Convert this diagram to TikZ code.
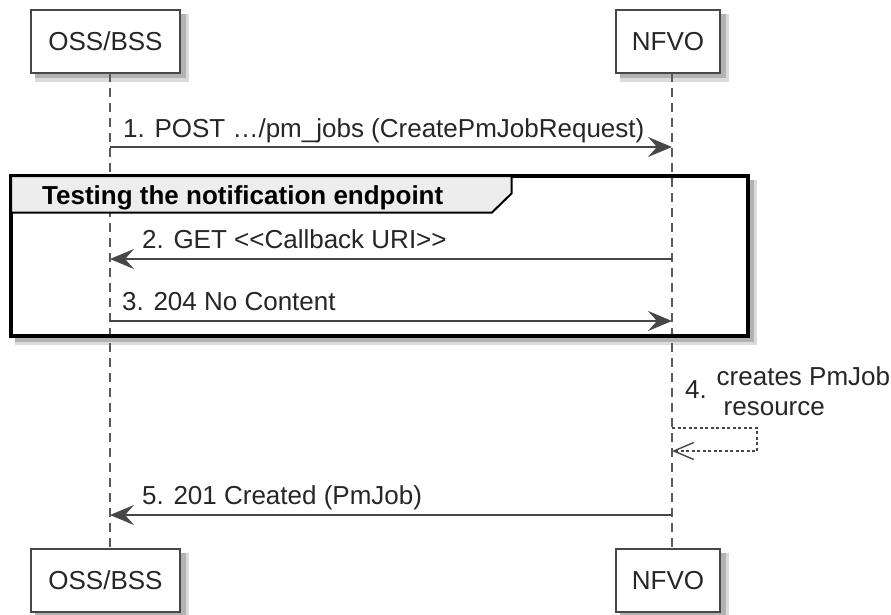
\documentclass[tikz,border=0pt]{standalone}
\usepackage{fontspec}
\setmainfont{Liberation Sans}
\usetikzlibrary{arrows.meta,positioning}

\begin{document}
\begin{tikzpicture}[
    x=1pt, y=-1pt,
    font=\fontsize{26}{30}\selectfont,
    actorbox/.style={draw=black!72, fill=white, line width=2.4pt, minimum height=63pt, inner sep=0pt, text=black!85},
    shadowfar/.style={fill=black!14},
    shadownear/.style={fill=black!30},
    lifeline/.style={draw=black!65, line width=1.3pt, dash pattern=on 9pt off 6pt},
    msgline/.style={draw=black!72, line width=1.4pt, -{Stealth[length=24pt,width=20pt,inset=9pt]}},
    selfline/.style={draw=black!72, line width=1.3pt, dash pattern=on 3pt off 2.5pt, -{Straight Barb[length=20pt,width=17pt,line width=1.4pt]}},
    msglabel/.style={anchor=base west, inner sep=0pt, text=black!85},
    groupframe/.style={draw=black, line width=4pt}
]
  \useasboundingbox (0,0) rectangle (891,615);

  % shadows
  \fill[shadowfar] (35,14) rectangle (189,82);
  \fill[shadownear] (35,14) rectangle (185.5,78.5);
  \fill[shadowfar] (620,14) rectangle (729,82);
  \fill[shadownear] (620,14) rectangle (725.5,78.5);
  \fill[shadowfar] (35,553) rectangle (189,615);
  \fill[shadownear] (35,553) rectangle (185.5,615);
  \fill[shadowfar] (620,553) rectangle (729,615);
  \fill[shadownear] (620,553) rectangle (725.5,615);
  \fill[shadowfar] (15,180) rectangle (757,345);
  \fill[shadownear] (15,180) rectangle (753.5,341.5);

  % participants
  \node[actorbox, minimum width=149pt] (ossTop) at (105.5,41.5) {OSS/BSS};
  \node[actorbox, minimum width=104pt] (nfvoTop) at (668,41.5) {NFVO};
  \node[actorbox, minimum width=149pt] (ossBot) at (105.5,580.5) {OSS/BSS};
  \node[actorbox, minimum width=104pt] (nfvoBot) at (668,580.5) {NFVO};

  \foreach \n/\y in {1/147,2/259,3/321,4/428,5/515} {
    \coordinate (oss\n) at (110,\y);
    \coordinate (nfvo\n) at (672,\y);
  }
  \coordinate (loopA) at (757,428);
  \coordinate (loopB) at (757,451);
  \coordinate (nfvo4b) at (672,451);

  % group
  \coordinate (grpA) at (11,176);
  \coordinate (grpB) at (748,336);
  \fill[white] (grpA) rectangle (grpB);

  \draw[lifeline] (110,73) -- (ossBot.north -| 110,0);
  \draw[lifeline] (672,73) -- (nfvoBot.north -| 672,0);

  \draw[groupframe] (grpA) rectangle (grpB);
  \draw[fill=black!7, line width=2pt] (11,176) -- (511.5,176) -- (511.5,193.5) -- (492,212.5) -- (11,212.5) -- cycle;
  \node[msglabel, font=\fontsize{26}{30}\selectfont\bfseries, text=black] (grpTitle) at (42,204) {Testing the notification endpoint};

  % messages
  \draw[msgline] (oss1) -- (nfvo1);
  \node[msglabel] (lbl1) at ([xshift=13pt, yshift=9.5pt]oss1) {1. POST …/pm\_jobs (CreatePmJobRequest)};

  \draw[msgline] (nfvo2) -- (oss2);
  \node[msglabel] (lbl2) at ([xshift=32pt, yshift=10.5pt]oss2) {2. GET <{}<Callback URI>{}>};

  \draw[msgline] (oss3) -- (nfvo3);
  \node[msglabel] (lbl3) at ([xshift=12pt, yshift=10.5pt]oss3) {3. 204 No Content};

  \draw[selfline] (nfvo4) -- (loopA) -- (loopB) -- (nfvo4b);
  \node[msglabel] (lbl4) at (685,398.5) {4.};
  \node[msglabel] (lbl4a) at (716.5,385) {creates PmJob};
  \node[msglabel] (lbl4b) at (723.5,415) {resource};

  \draw[msgline] (nfvo5) -- (oss5);
  \node[msglabel] (lbl5) at ([xshift=32pt, yshift=11pt]oss5) {5. 201 Created (PmJob)};
\end{tikzpicture}
\end{document}
